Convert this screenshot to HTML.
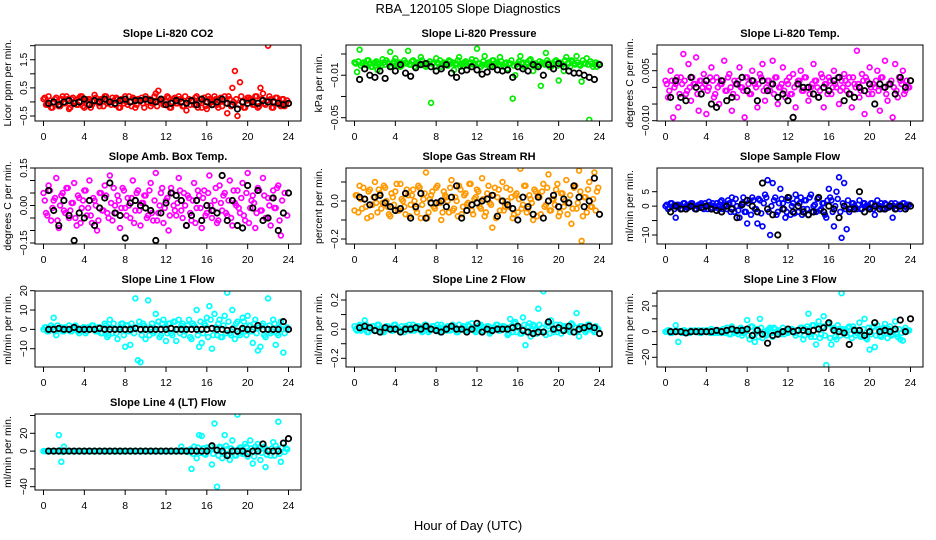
<!DOCTYPE html>
<html><head><meta charset="utf-8"><style>
html,body{margin:0;padding:0;background:#fff;}
svg{display:block;font-family:"Liberation Sans",sans-serif;}
</style></head><body>
<svg id="chart" width="936" height="540" viewBox="0 0 936 540" xmlns="http://www.w3.org/2000/svg">
<text x="468" y="13" font-size="13" text-anchor="middle">RBA_120105  Slope Diagnostics</text>
<text x="468" y="530" font-size="13" text-anchor="middle">Hour of Day (UTC)</text>
</svg>
<script>
// ---- data (colored series every 15 min from 0h; band series every 15 min from 0.125h; black every 30 min from 0.5h) ----
const xTicks = [0,4,8,12,16,20,24];
const titles = ["Slope Li-820 CO2","Slope Li-820 Pressure","Slope Li-820 Temp.","Slope Amb. Box Temp.","Slope Gas Stream RH","Slope Sample Flow","Slope Line 1 Flow","Slope Line 2 Flow","Slope Line 3 Flow","Slope Line 4 (LT) Flow"];
const yTitles = ["Licor ppm per min.","kPa per min.","degrees C per min.","degrees C per min.","percent per min.","ml/min per min.","ml/min per min.","ml/min per min.","ml/min per min.","ml/min per min."];
const colors = ["#ff0000","#00ee00","#ff00ff","#ff00ff","#ff9900","#0000ff","#00ffff","#00ffff","#00ffff","#00ffff"];
const tickVals = [[2,1.5,1,0.5,0,-0.5],[0.01,-0.01,-0.03,-0.05],[10,5,0,-5,-10],[15,10,5,0,-5,-10,-15],[10,0,-10,-20],[5,0,-5,-10],[20,10,0,-10],[20,10,0,-10,-20],[30,20,10,0,-10,-20],[40,20,0,-20,-40]];
const tickLabels = [["","1.5","","0.5","","\u22120.5"],["","\u22120.01","","\u22120.05"],["","0.005","","","\u22120.010"],["0.15","","","0.00","","","\u22120.15"],["","0.0","","\u22120.2"],["5","0","","\u221210"],["20","10","0","\u221210"],["0.2","","0.0","","\u22120.2"],["","20","","0","","\u221220"],["","20","0","","\u221240"]];
const yAnchors = [[2,-0.5],[0.01,-0.05],[5,-10],[15,-15],[0,-20],[5,-10],[20,-10],[20,-20],[20,-20],[20,-40]];

const colored0 = [0.1,-0.1,0.2,-0.2,0.0,0.15,-0.15,0.1,-0.05,0.2,-0.25,0.1,0.0,-0.1,0.15,0.2,-0.2,0.05,0.1,-0.1,0.25,0.0,-0.15,0.1,0.2,-0.05,0.0,0.15,-0.1,0.1,-0.2,0.05,0.2,-0.1,0.0,0.15,-0.2,0.1,0.05,-0.05,0.2,0.1,-0.15,0.0,0.3,0.4,0.1,-0.1,0.0,0.15,-0.2,0.1,-0.05,0.2,0.0,-0.15,-0.3,0.1,0.05,-0.1,0.2,0.0,-0.2,0.15,-0.25,0.1,0.0,0.2,-0.1,0.05,-0.15,0.2,-0.4,0.1,0.5,1.1,-0.5,0.7,0.0,-0.2,0.15,0.1,-0.1,0.2,-0.2,0.5,0.3,-0.1,2.0,0.1,-0.2,0.15,0.0,-0.15,0.1,-0.05];
const band0 = [0.15,-0.1,0.05,-0.2,0.1,0.0,-0.15,0.2,-0.05,0.1,-0.2,0.15,0.0,-0.1,0.2,-0.15,0.05,0.1,-0.2,0.0,0.15,-0.05,0.1,-0.15,0.2,0.0,-0.1,0.05,0.15,-0.2,0.1,-0.05,0.0,0.2,-0.15,0.1,-0.1,0.05,0.15,-0.2,0.0,0.1,-0.05,0.2,-0.15,0.05,0.1,-0.1,0.2,-0.2,0.0,0.15,-0.05,0.1,-0.15,0.2,0.05,-0.1,0.0,0.15,-0.2,0.1,0.05,-0.15,0.2,0.0,-0.1,0.1,-0.2,0.15,0.05,-0.05,0.2,-0.15,0.0,0.1,-0.1,0.2,-0.2,0.05,0.15,0.0,-0.1,0.2,-0.15,0.1,-0.05,0.05,0.2,-0.2,0.0,0.15,-0.1,0.1,-0.15,0.05];
const black0 = [-0.05,0.0,-0.1,0.0,0.05,-0.05,0.0,0.1,-0.1,0.05,0.0,0.1,0.0,-0.05,0.05,0.1,0.0,0.05,0.05,0.1,0.05,0.0,0.1,-0.1,-0.05,0.05,0.0,-0.05,0.05,-0.1,0.1,0.0,-0.1,0.0,0.1,-0.05,-0.1,-0.25,0.0,-0.05,0.0,-0.05,0.05,0.0,0.0,-0.05,-0.1,-0.05];
const colored1 = [0.002,-0.007,0.014,0.001,0,0.004,0.001,-0.002,0.002,-0.005,0.001,0.005,0,0.002,0.012,0.001,0.006,0.001,-0.002,0.001,0.002,0.013,0,0.004,0.001,0,0.007,0.001,-0.002,0.001,-0.036,0.002,0.006,0.001,-0.002,0.002,0,0.004,0.001,-0.005,0.001,0.007,0,0.002,-0.001,0.001,0.005,0.001,0.015,0.001,0,0.008,0.001,-0.002,0.004,0.001,0.002,0.007,0,0.001,-0.004,0.001,-0.032,-0.01,0.001,0.008,0.002,-0.002,0.001,0.005,-0.006,0.001,0,-0.02,0.001,0.011,0.002,-0.002,0.001,0.004,-0.015,0.001,-0.006,0.007,0.001,0.004,0.001,0.008,0,-0.016,0.001,0.006,-0.052,0.001,0,-0.002];
const band1 = [0.001,0.003,-0.001,0.002,0.0,0.004,-0.002,0.001,0.003,0.0,-0.001,0.002,0.004,0.001,-0.002,0.003,0.0,0.002,-0.001,0.004,0.001,0.0,0.003,-0.002,0.002,0.001,0.004,-0.001,0.0,0.003,0.001,-0.002,0.002,0.004,0.0,0.001,-0.001,0.003,0.002,0.0,0.004,-0.002,0.001,0.003,-0.001,0.002,0.0,0.004,0.001,-0.002,0.003,0.0,0.002,-0.001,0.004,0.001,0.0,0.003,-0.002,0.002,0.001,0.004,-0.001,0.0,0.003,0.001,-0.002,0.002,0.004,0.0,0.001,-0.001,0.003,0.002,0.0,0.004,-0.002,0.001,0.003,-0.001,0.002,0.0,0.004,0.001,-0.002,0.003,0.0,0.002,-0.001,0.004,0.001,0.0,0.003,-0.002,0.002,0.001];
const black1 = [-0.014,-0.004,-0.01,-0.012,-0.006,-0.013,-0.002,-0.006,0,-0.008,-0.011,-0.003,0,0.001,-0.002,-0.006,-0.004,0,-0.008,-0.012,-0.006,-0.005,-0.002,-0.005,-0.009,-0.007,-0.002,-0.005,-0.006,-0.005,-0.012,-0.002,-0.004,-0.006,0,-0.002,-0.01,0,-0.004,0.001,-0.002,-0.006,-0.008,-0.008,-0.01,-0.012,-0.014,0];
const colored2 = [2,-3,5,-9,1,-6,3,10,-2,7,-4,1,9,-7,2,4,-8,0,6,-3,3,-5,1,8,-1,4,-7,2,-3,6,0,-9,3,-2,5,1,-6,4,7,-4,2,-1,8,3,-5,0,6,-3,1,-2,4,-6,2,5,-1,3,-4,0,7,2,-3,4,-6,1,3,-2,5,0,-5,2,4,-1,3,-6,1,11,-3,4,-8,2,6,-2,0,5,-7,3,8,-4,1,-9,7,-3,2,5,-1,0];
const band2 = [1,-1,2,0,3,-2,1,2,-1,0,3,1,-2,2,0,1,-1,3,2,-2,0,1,2,-1,3,0,-2,1,2,0,-1,3,1,-2,2,0,1,3,-1,0,2,1,-2,3,0,1,-1,2,3,-2,0,1,2,-1,3,0,-2,1,2,0,-1,3,1,-2,2,0,1,3,-1,0,2,1,-2,3,0,1,-1,2,3,-2,0,1,2,-1,3,0,-2,1,2,0,-1,3,1,-2,2,0];
const black2 = [-3,2,-3,-4,3,0,-2,2,-5,-6,2,-4,-3,1,3,-1,2,-4,2,-1,1,-3,-2,-4,-9,1,0,0,-2,-3,0,-1,2,3,-4,-2,-3,0,-1,1,-5,1,0,1,-2,3,0,2];
const colored3 = [5,-3,8,-6,2,11,-9,4,-2,7,-5,1,9,-8,3,-1,6,-4,10,-7,2,-10,5,-2,8,-3,12,-6,0,4,-9,7,-1,3,-5,10,-2,6,-8,1,4,-4,9,-6,13,-3,5,-7,2,-10,7,0,-4,11,-2,5,-8,3,-6,9,-1,4,-9,6,-3,12,-5,2,-7,8,-2,5,-4,10,-8,1,6,-3,9,-6,13,-1,4,-9,7,-2,11,-5,3,-8,6,-1,8,-12];
const band3 = [2,-4,6,-1,3,-6,0,5,-3,7,-2,1,-5,4,-7,2,6,-1,-4,3,0,-6,5,-2,4,-5,1,7,-3,2,-1,6,-4,0,3,-7,5,-2,1,4,-5,6,-3,2,-6,0,7,-1,3,-4,5,-2,1,6,-5,0,4,-3,2,-7,6,-1,3,-4,5,0,-2,7,-6,1,4,-3,2,-5,6,0,-1,3,-4,5,-7,2,1,-3,6,-2,4,-5,0,3,-1,7,-6,2,5,-4];
const black3 = [6,-2,-8,2,-4,-14,-3,-5,2,-8,-1,3,9,-3,-4,-13,1,2,0,-1,-2,-14,-3,1,5,4,2,-8,-4,2,-6,0,-2,-3,12,-6,2,-8,-9,8,-1,6,-6,-5,3,-10,-3,5];
const colored4 = [-5,3,8,-4,1,-9,6,-2,10,-6,4,-1,7,-3,-8,2,5,-5,9,0,-7,3,-2,6,-4,8,-9,1,15,-6,3,-3,7,-1,-10,5,2,-6,11,-4,0,8,-7,3,-2,9,-5,1,6,-3,12,-8,4,-1,-14,7,2,-5,10,-3,0,6,-9,3,-6,17,-2,8,-4,1,-10,5,3,-7,9,-2,14,-5,1,6,-8,4,-3,11,-1,-12,7,-4,16,-21,2,-6,10,-3,15,5];
const band4 = [3,-6,1,7,-3,5,-8,2,-1,6,-4,8,0,-7,4,-2,9,-5,1,-3,6,-8,3,0,-6,7,-2,4,-9,1,5,-4,8,-1,-6,3,0,7,-5,2,-8,6,-3,4,-1,9,-7,2,5,-4,1,-6,8,-2,3,-9,6,0,-5,7,-3,2,-7,4,1,-4,8,-6,3,-1,6,-8,2,5,-3,7,-5,1,-2,9,-6,4,0,-7,3,-4,8,-1,5,-8,2,6,-3,1,-5,7];
const black4 = [2,1,-2,2,3,-1,-3,-5,-4,4,-9,-3,4,-9,-1,-1,0,-3,2,8,-9,-5,-2,-1,0,1,3,-8,0,-2,-4,-10,2,-3,-7,2,-9,0,3,-3,1,-1,8,2,-3,0,12,-7];
const colored5 = [0,-1,1,0,-4,0.5,-1,1,0,-0.5,1,0,-1,0.5,1,-1,0,1.5,-0.5,0,1,-1,2,0,-1,1,3,-2,0,-4,1,-2,-6,2,3,-1,-6,2,-7,4,9,-10,8,3,-2,6,1,-4,2,-3,1,4,-2,3,-1,2,-3,4,0,-2,3,-1,1,-4,6,2,-7,5,10,-11,8,-8,-2,1,0,-1,2,-1,1,0,-1,1,-3,2,0,-1,1,-0.5,0,-4,1,0,-1,1,0,0.5];
const band5 = [0.5,-0.5,1,-1,0.5,0,-1,1,-0.5,0.5,1,-1,0,0.5,-0.5,1,-1,0.5,1,-0.5,0,1.5,-1,0.5,2,-2,1,2.5,-1.5,0,3,-2,1,-3,2,-1,2.5,-2.5,1,3,-2,0,2,-3,1,2.5,-1,-2,3,0,-2.5,2,1,-3,2,-1,3,-2,0.5,2.5,-1.5,1,-3,2,3,-2,0,2.5,-2,1,-1,2,-1,1,-0.5,0.5,-1,1,0,-0.5,1,-1,0.5,0,1,-1,0.5,-0.5,1,0,-1,0.5,0,1,-0.5,0.5];
const black5 = [-2,0,-1,-1,0,-1,-0.5,0,-1,-1.5,-2,0,-1,-4,0.5,2,0,-2,8,-1,-3,-10,-1,3,-2,0,-2,-3,-2,3,-2,0,-1,-4,0,-1,-1,5,-2,-1,0,-1,-1,0,-1,0,-1,0];
const colored6 = [0,1,-1,2,6,-3,0,1,-1,0,2,-1,0,1,-2,0,1,-1,0,2,0,-1,1,-2,3,-4,5,-2,0,-5,1,3,-9,2,-8,0,16,-16,-17,3,-5,15,1,-2,8,4,-3,5,-6,3,-2,4,-6,5,2,-3,0,5,-5,2,10,-9,-7,3,6,12,-10,8,-3,5,-4,7,19,-2,10,-5,4,-3,6,-1,7,2,-7,5,-11,-9,3,-4,16,-2,5,-8,-3,4,-12,0];
const band6 = [1,-1,0,1,-1,2,0,-1,1,0,-1,1,2,-1,0,1,-2,1,0,2,-1,1,-2,0,2,-3,1,3,-2,0,3,-3,2,-1,3,-2,1,4,-3,2,0,-3,3,-1,2,-4,3,1,-2,3,-3,4,0,-2,3,-1,2,-4,3,1,-3,4,-2,2,-4,5,-3,1,3,-4,2,-2,4,-3,1,3,-2,0,4,-3,2,-1,3,-2,1,2,-3,0,2,-1,3,-2,1,0,-2,1];
const black6 = [0,0,0.5,0,0,1,0,0,0,0,0.5,0,0,0,0,0,0,0.5,0,0,0,0,0,0,0.5,0,0,0,0,0,0,0,0.5,0,0,-0.5,0,-1,0.5,0,0,2,0,0,0,0,4,0];
const colored7 = [2,-1,3,0,6,-2,1,2,-1,3,0,-2,1,2,0,-1,3,1,-2,0,2,1,-1,3,0,2,-1,1,3,-2,0,2,1,-1,3,0,-1,2,0,1,-2,3,1,0,-1,2,4,-1,0,3,-2,1,2,-3,0,1,3,-1,2,0,-4,7,-2,5,1,-3,8,-11,2,-5,3,0,14,-28,26,-4,2,6,-2,3,0,-3,2,1,-1,4,-2,11,-5,2,0,-1,3,1,-2,0];
const band7 = [0,2,-1,1,3,-2,0,2,-1,3,1,-2,2,0,-1,3,1,-1,2,-2,0,3,1,-1,2,0,-2,3,1,-1,2,0,3,-2,1,0,2,-1,3,1,-2,0,2,-1,3,0,1,-2,2,3,-1,0,2,-2,1,3,-1,0,2,1,-3,2,4,-2,1,-3,3,-2,4,-1,2,-3,3,1,-2,4,-3,2,0,-2,3,-1,2,0,-2,3,1,-1,2,0,-2,3,1,-1,2,0];
const black7 = [1,2,1,-1,-2,1,0,0,-2,0,0,1,0,2,0,-1,-2,0,2,0,0,-2,0,4,-2,0,-1,0,0,0,1,2,-1,-2,-3,-2,-2,5,0,1,-1,2,-2,0,1,2,1,-3];
const colored8 = [0,1,-1,0,5,-8,0,1,0,-1,1,0,0,1,-1,0,1,0,2,-1,0,1,-1,0,3,-2,4,-1,0,2,-3,1,9,-6,4,-8,2,10,-5,-2,1,3,-4,2,0,-2,3,1,-1,2,0,-3,1,3,-6,2,14,-4,5,-10,8,-2,12,-26,6,-10,3,-6,2,30,1,-3,4,-5,2,-1,7,-3,10,-6,-14,3,-12,5,-3,2,6,-5,4,-2,8,-4,-6,-7,3,1];
const band8 = [0,1,-1,0,1,0,-1,1,0,-1,0,1,0,-1,1,0,1,-1,0,1,-1,0,2,-1,1,-2,2,0,-2,3,-1,2,-3,4,-2,1,-4,3,0,-3,2,-1,3,-2,1,0,-2,1,0,2,-1,1,-2,3,-3,4,-2,5,-4,3,-5,4,-3,6,-5,2,-4,5,-3,2,-1,3,-2,4,-3,1,-4,2,-5,3,-2,4,-3,2,-4,3,-1,2,-3,1,-2,2,-1,1,0,1];
const black8 = [0,0,0,-1,0,0,0,0,0,1,0,1,2,1,1,2,-3,1,-2,-9,-3,-2,0,2,0,1,1,0,1,2,3,7,1,0,-1,-10,1,1,-3,0,7,0,1,0,2,9,0,10];
const colored9 = [0,0,0,0,0,0,18,-12,5,0,0,0,0,0,0,0,0,0,0,0,0,0,0,0,0,0,0,0,0,0,0,0,0,0,0,0,0,0,0,0,0,0,0,0,0,0,0,0,0,0,0,0,0,0,5,0,0,0,-20,5,-8,18,17,-3,4,2,-15,31,-40,5,-8,18,2,-10,12,-5,41,4,-3,8,-6,12,-14,5,8,-10,3,-18,1,-5,10,6,33,-12,9,3];
const band9 = [0,0,0,0,0,0,1,-1,0,0,0,0,0,0,0,0,0,0,0,0,0,0,0,0,0,0,0,0,0,0,0,0,0,0,0,0,0,0,0,0,0,0,0,0,0,0,0,0,0,0,0,0,0,0,1,0,-1,2,-3,1,4,-2,3,-4,2,5,-3,1,-5,4,-2,6,-4,3,1,-5,2,4,-3,5,-1,3,-6,2,4,-2,5,-4,1,3,-5,2,-3,4,-1,2];
const black9 = [0,0,0,0,0,0,0,0,0,0,0,0,0,0,0,0,0,0,0,0,0,0,0,0,0,0,0,0,0,0,0,0,6,1,0,-5,0,0,0,-3,0,0,8,0,0,0,9,14];

const coloredSeries = [colored0,colored1,colored2,colored3,colored4,colored5,colored6,colored7,colored8,colored9];
const bandSeries = [band0,band1,band2,band3,band4,band5,band6,band7,band8,band9];
const blackSeries = [black0,black1,black2,black3,black4,black5,black6,black7,black8,black9];

// ---- layout ----
const colLeft = [35,346,657], colW = 266;
const rowTop = [45,168,291,414], rowH = 76;
const yPix = [[45.7,116],[54,117.7],[70.7,120.7],[168,243],[201,239],[191.7,235],[290.7,348.7],[300,358.3],[306,357.3],[433.3,486.7]];

const svg = document.getElementById('chart');
const NS = 'http://www.w3.org/2000/svg';
function mk(tag, attrs, parent){const e=document.createElementNS(NS,tag);for(const k in attrs)e.setAttribute(k,attrs[k]);(parent||svg).appendChild(e);return e;}

for (let p=0;p<10;p++){
  const col = p%3, row = Math.floor(p/3);
  const L = colLeft[col], T = rowTop[row], R = L+colW, B = T+rowH;
  const g = mk('g',{});
  
  
  const xS = v => L+8.5 + v/24*(colW-21);
  const [v1,v2] = yAnchors[p], [p1,p2] = yPix[p];
  const yS = v => p1 + (v-v1)*(p2-p1)/(v2-v1);
  const cid='clip'+p;
  const cp = mk('clipPath',{id:cid},g); mk('rect',{x:L,y:T,width:colW,height:rowH},cp);
  const t = mk('text',{x:(L+R)/2,y:T-8,'font-size':11,'font-weight':'bold','text-anchor':'middle'},g);
  t.textContent = titles[p];
  
  
  const yt = mk('text',{transform:`translate(${L-24},${(T+B)/2}) rotate(-90)`,'font-size':10.5,'text-anchor':'middle'},g);
  yt.textContent = yTitles[p];
  
  
  mk('line',{x1:xS(0),x2:xS(24),y1:B,y2:B,stroke:'#000','stroke-width':1},g);
  xTicks.forEach(v=>{
    mk('line',{x1:xS(v),x2:xS(v),y1:B,y2:B+5,stroke:'#000'},g);
    const tl = mk('text',{x:xS(v),y:B+19,'font-size':10.5,'text-anchor':'middle'},g);
    tl.textContent = v;
    
    
  });
  const tv = tickVals[p];
  mk('line',{x1:L,x2:L,y1:yS(tv[0]),y2:yS(tv[tv.length-1]),stroke:'#000'},g);
  tv.forEach((v,i)=>{
    const y = yS(v);
    mk('line',{x1:L-5,x2:L,y1:y,y2:y,stroke:'#000'},g);
    if (tickLabels[p][i]){
      const yl = mk('text',{transform:`translate(${L-8},${y}) rotate(-90)`,'font-size':10,'text-anchor':'middle'},g);
      yl.textContent = tickLabels[p][i];
      
      
    }
  });
  const pts = mk('g',{'clip-path':`url(#${cid})`},g);
  bandSeries[p].forEach((v,i)=>{
    const c = mk('circle',{cx:xS(i*0.25+0.125),cy:yS(v),r:2.4,fill:'none',stroke:colors[p],'stroke-width':1.7},pts);
    
    
  });
  coloredSeries[p].forEach((v,i)=>{
    const c = mk('circle',{cx:xS(i*0.25),cy:yS(v),r:2.4,fill:'none',stroke:colors[p],'stroke-width':1.7},pts);
    
    
  });
  blackSeries[p].forEach((v,i)=>{
    const c = mk('circle',{cx:xS((i+1)*0.5),cy:yS(v),r:2.7,fill:'none',stroke:'#000','stroke-width':1.8},pts);
    
    
  });
  const bx = mk('rect',{x:L,y:T,width:colW,height:rowH,fill:'none',stroke:'#000','stroke-width':1},g);
  
  
}
</script>
</body></html>
